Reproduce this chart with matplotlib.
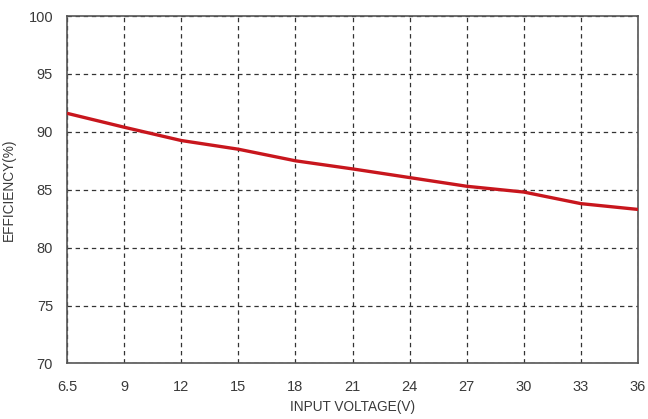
import matplotlib
matplotlib.use("Agg")
import matplotlib.pyplot as plt

plt.rcParams['font.family'] = ['Liberation Sans', 'DejaVu Sans']

x_labels = ["6.5", "9", "12", "15", "18", "21", "24", "27", "30", "33", "36"]
efficiency = [91.6, 90.4, 89.25, 88.5, 87.5, 86.8, 86.05, 85.3, 84.8, 83.8, 83.3]
y_ticks = [70, 75, 80, 85, 90, 95, 100]

fig = plt.figure(figsize=(6.48, 4.19), dpi=100)
ax = fig.add_axes([0.1034, 0.1325, 0.8812, 0.8293])

pos = list(range(len(x_labels)))
ax.plot(pos, efficiency, color="#C8161D", linewidth=2.4, solid_capstyle="butt",
        solid_joinstyle="round", zorder=3)

ax.set_xlim(0, len(x_labels) - 1)
ax.set_ylim(70, 100)
ax.set_xticks(pos)
ax.set_xticklabels(x_labels)
ax.set_yticks(y_ticks)

ax.grid(True, color="#333333", linestyle=(0, (3.5, 3)), linewidth=0.9)
for s in ax.spines.values():
    s.set_color("#555555")
    s.set_linewidth(1.2)
ax.tick_params(length=0, labelsize=10.5, colors="#3a3a3a")
ax.tick_params(axis="x", pad=12)
ax.tick_params(axis="y", pad=10)

ax.set_xlabel("INPUT VOLTAGE(V)", fontsize=9.8, color="#3a3a3a", labelpad=4)
ax.set_ylabel("EFFICIENCY(%)", fontsize=9.8, color="#3a3a3a", labelpad=9)

fig.savefig("out.png", dpi=100)
